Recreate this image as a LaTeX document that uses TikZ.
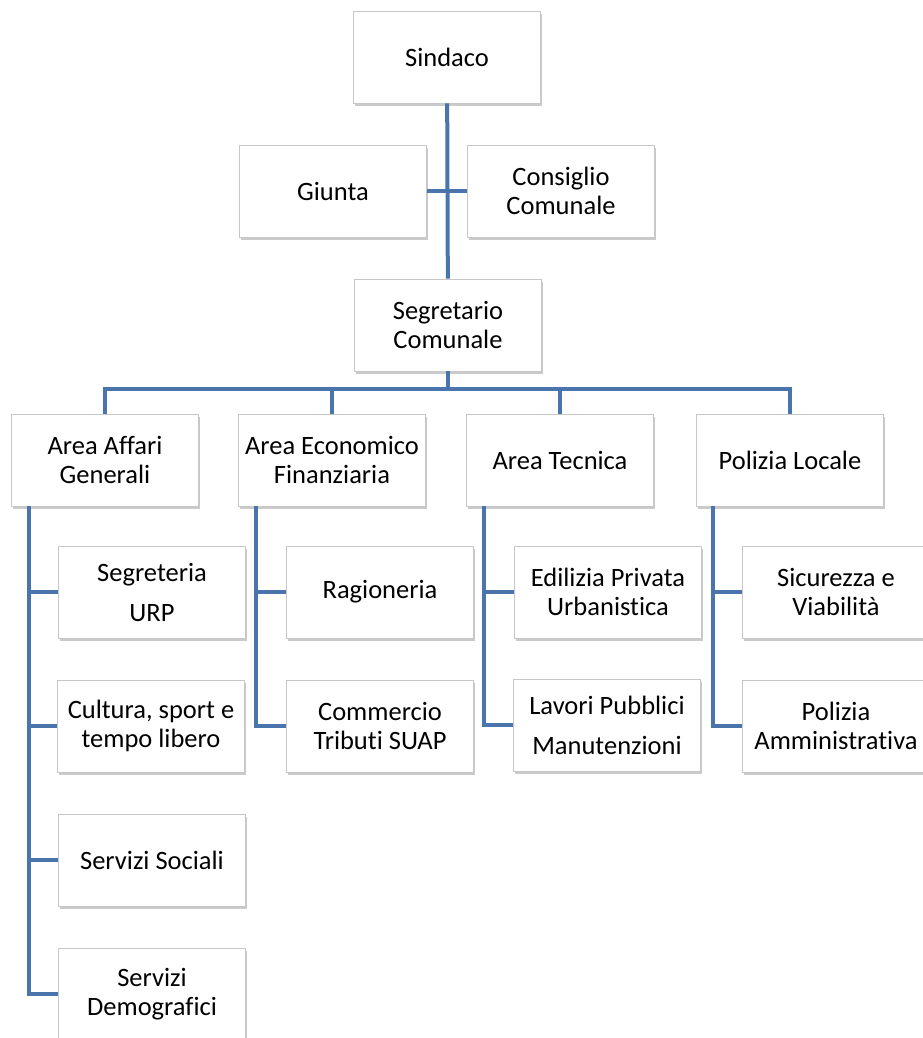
\documentclass[tikz,border=0pt]{standalone}
\usepackage{fontspec}
\setmainfont[Ligatures=NoCommon]{Carlito}
\usetikzlibrary{shadows}
\definecolor{linhablu}{RGB}{74,117,172}

\begin{document}
\begin{tikzpicture}[x=1pt,y=-1pt,
	ufficio/.style={draw=black!22, fill=white, line width=0.8pt, minimum width=187pt, minimum height=92pt,
		align=center, inner sep=2pt, font=\fontsize{26.5}{29}\selectfont,
		drop shadow={shadow xshift=1.5pt, shadow yshift=-3pt, fill=black!35, opacity=0.6}},
	collega/.style={draw=linhablu, line width=4pt}]
		\useasboundingbox (0,0) rectangle (922,1038);					% Margini
		% Vertice
		\node[ufficio] (sind) at (447,57) {Sindaco};
		\node[ufficio] (giunta) at (333,191) {Giunta};
		\node[ufficio] (cons) at (561,191) {Consiglio\\Comunale};
		\node[ufficio] (segr) at (448,325) {Segretario\\Comunale};
		% Aree
		\node[ufficio] (aag) at (105,460) {Area Affari\\Generali};
		\node[ufficio] (aef) at (332,460) {Area Economico\\Finanziaria};
		\node[ufficio] (atec) at (560,460) {Area Tecnica};
		\node[ufficio] (ploc) at (790,460) {Polizia Locale};
		% Uffici della prima area
		\node[ufficio] (seg) at (152,592) {Segreteria\\[11pt]URP};
		\node[ufficio] (cult) at (151,726) {Cultura, sport e\\tempo libero};
		\node[ufficio] (soc) at (152,860) {Servizi Sociali};
		\node[ufficio] (demo) at (152,994) {Servizi\\Demografici};
		% Uffici della seconda area
		\node[ufficio] (rag) at (380,592) {Ragioneria};
		\node[ufficio] (comm) at (380,726) {Commercio\\Tributi SUAP};
		% Uffici della terza area
		\node[ufficio] (edil) at (608,592) {Edilizia Privata\\Urbanistica};
		\node[ufficio] (lav) at (607,725) {Lavori Pubblici\\[11pt]Manutenzioni};
		% Uffici della polizia
		\node[ufficio] (sic) at (836,592) {Sicurezza e\\Viabilità};
		\node[ufficio] (pamm) at (836,726) {Polizia\\Amministrativa};
		% Collegamenti
		\coordinate (bus) at ([yshift=-18pt]segr.south);
		\coordinate (aagl) at ([xshift=18pt]aag.south west);
		\coordinate (aefl) at ([xshift=18pt]aef.south west);
		\coordinate (atecl) at ([xshift=18pt]atec.south west);
		\coordinate (plocl) at ([xshift=17pt]ploc.south west);
		\draw[collega] (sind) -- (segr);
		\draw[collega] (giunta) -- (cons);
		\draw[collega] (segr) -- (bus);
		\draw[collega] (aag) |- (bus) -| (ploc);
		\draw[collega] (aef) -- (aef |- bus);
		\draw[collega] (atec) -- (atec |- bus);
		\draw[collega] (aagl) |- (demo.west);
		\draw[collega] (aagl |- seg.west) -- (seg.west);
		\draw[collega] (aagl |- cult.west) -- (cult.west);
		\draw[collega] (aagl |- soc.west) -- (soc.west);
		\draw[collega] (aefl) |- (comm.west);
		\draw[collega] (aefl |- rag.west) -- (rag.west);
		\draw[collega] (atecl) |- (lav.west);
		\draw[collega] (atecl |- edil.west) -- (edil.west);
		\draw[collega] (plocl) |- (pamm.west);
		\draw[collega] (plocl |- sic.west) -- (sic.west);
	\end{tikzpicture}
\end{document}
